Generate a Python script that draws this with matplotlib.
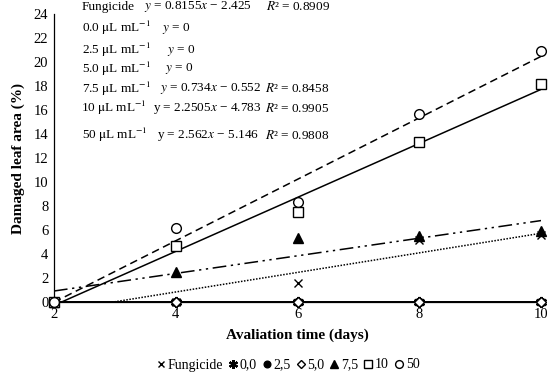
import matplotlib
matplotlib.use("Agg")
import matplotlib.pyplot as plt
from matplotlib.lines import Line2D
import numpy as np

plt.rcParams['font.family'] = ['Liberation Serif', 'DejaVu Serif']
plt.rcParams['mathtext.fontset'] = 'stix'

days = [2, 4, 6, 8, 10]
fungicide = [0, 0, 1.6, 5.2, 5.6]
c00 = [0, 0, 0, 0, 0]
c25 = [0, 0, 0, 0, 0]
c50 = [0, 0, 0, 0, 0]
c75 = [0, 2.5, 5.3, 5.5, 5.9]
c10 = [0, 4.7, 7.5, 13.3, 18.2]
c500 = [0, 6.2, 8.3, 15.7, 20.9]

# regression coefficients (slope, intercept)
fit_fung = (0.8155, -2.425)
fit_00 = (0.0, 0.0)
fit_25 = (0.0, 0.0)
fit_50 = (0.0, 0.0)
fit_75 = (0.734, -0.552)
fit_10 = (2.2505, -4.783)
fit_500 = (2.562, -5.146)

legend_labels = ["Fungicide", "0,0", "2,5", "5,0", "7,5", "10", "50"]

fig = plt.figure(figsize=(5.5, 3.78), dpi=100)
ax = fig.add_axes([0.098, 0.201, 0.886, 0.762])

xs = np.array([2, 10])
def fline(fit, **kw):
    ax.plot(xs, fit[0] * xs + fit[1], color='black', lw=1.1, **kw)

fline(fit_fung, ls=(0, (1, 1)))
fline(fit_00, ls='-')
fline(fit_25, ls='-')
fline(fit_50, ls='-')
fline(fit_75, ls=(0, (9, 3, 1.5, 3, 1.5, 3)))
fline(fit_10, ls='-')
fline(fit_500, ls=(0, (5, 3)))

mk = dict(color='black', linestyle='none', clip_on=False, zorder=5)
series = [
    (fungicide, dict(marker='x', ms=6, mew=1.0)),
    (c00, dict(marker=(6, 2, 0), ms=8, mew=1.6)),
    (c25, dict(marker='o', ms=6)),
    (c50, dict(marker='D', ms=5, mfc='white', mew=1.0)),
    (c75, dict(marker='^', ms=7)),
    (c10, dict(marker='s', ms=7, mfc='white', mew=1.0)),
    (c500, dict(marker='o', ms=7, mfc='white', mew=1.0)),
]
handles = []
for data, st in series:
    ax.plot(days, data, **mk, **st)
    hst = dict(st)
    hst['ms'] = hst['ms'] * 0.8
    handles.append(Line2D([], [], color='black', linestyle='none', **hst))

ax.set_xlim(2, 10)
ax.set_ylim(0, 24)
ax.set_xticks([2, 4, 6, 8, 10])
ax.set_yticks(range(0, 25, 2))
ax.tick_params(length=0, labelsize=10.5, pad=4)
for s in ['top', 'right']:
    ax.spines[s].set_visible(False)
for s in ['left', 'bottom']:
    ax.spines[s].set_linewidth(0.9)

ax.set_xlabel('Avaliation time (days)', fontsize=11, fontweight='bold', labelpad=6)
ax.set_ylabel('Damaged leaf area (%)', fontsize=11, fontweight='bold', labelpad=6)

fs = 9.5
def t(x, y, s):
    fig.text(x / 550, 1 - y / 378, s, fontsize=fs, va='center', ha='left')

unit = r'$\mathrm{\mu}$L mL$^{-1}$'
t(82, 7, 'Fungicide'); t(144, 7, r'$y$ = 0.8155$x$ − 2.425'); t(266, 7, r'$R$² = 0.8909')
t(82, 28, '0.0 ' + unit); t(162, 28, r'$y$ = 0')
t(82, 50, '2.5 ' + unit); t(167, 50, r'$y$ = 0')
t(82, 69, '5.0 ' + unit); t(165, 69, r'$y$ = 0')
t(82, 89, '7.5 ' + unit); t(160, 89, r'$y$ = 0.734$x$ − 0.552'); t(265, 89, r'$R$² = 0.8458')
t(81, 108, '10 ' + unit); t(153, 108, r'y = 2.2505$x$ − 4.783'); t(265, 108, r'$R$² = 0.9905')
t(82, 135, '50 ' + unit); t(157, 135, r'y = 2.562$x$ − 5.146'); t(265, 135, r'$R$² = 0.9808')

fig.legend(handles, legend_labels, loc='center', bbox_to_anchor=(0.523, 1 - 365 / 378),
           ncol=7, frameon=False, fontsize=10, handlelength=0.7, handletextpad=0.15,
           columnspacing=0.35, borderpad=0)

fig.savefig('out.png', dpi=100)
